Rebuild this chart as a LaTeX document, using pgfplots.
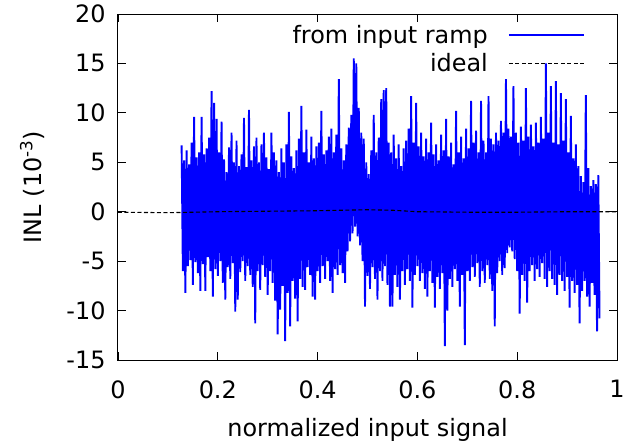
\documentclass[border=0pt]{standalone}
\usepackage{pgfplots}
\pgfplotsset{compat=1.18}
\usepackage{fontspec}
\setmainfont{DejaVu Sans}
\definecolor{gpblue}{RGB}{0,0,255}
\newcommand{\ff}{\fontsize{24}{28}\selectfont}
\begin{document}
\begin{tikzpicture}
\begin{axis}[
  at={(0,0)}, anchor=south west,
  scale only axis, width=499bp, height=346bp,
  xmin=0, xmax=1, ymin=-15, ymax=20,
  xtick={0,0.2,0.4,0.6,0.8,1},
  ytick={-15,-10,-5,0,5,10,15,20},
  tick align=inside, major tick length=8bp,
  every tick/.style={black, line width=0.8bp},
  axis line style={black, line width=1bp},
  /pgf/number format/assume math mode=true,
  tick label style={font=\ff},
  xticklabel style={yshift=-17bp},
  yticklabel style={xshift=-9bp},
  label style={font=\ff},
  xlabel={normalized input signal},
  ylabel={INL (10\textsuperscript{-3})},
  xlabel style={at={(axis description cs:0.5,-0.2225)}, anchor=base},
  ylabel style={at={(axis description cs:-0.172,0.5)}, anchor=center},
  legend style={at={(axis description cs:0.942,0.98)}, anchor=north east,
    draw=none, fill=none, font=\ff, row sep=5bp, column sep=18bp},
  legend plot pos=right,
  legend cell align=right,
]
\addplot[gpblue, line width=1.9bp,
  legend image code/.code={\draw[draw=gpblue, line width=2bp] (0bp,0bp) -- (75bp,0bp);}] coordinates {
(0.1275,6.7)(0.1300,-6.0)(0.1325,5.2)(0.1350,-8.2)(0.1375,6.2)(0.1400,-5.5)(0.1425,4.8)(0.1450,-4.9)
(0.1475,7.0)(0.1500,-7.4)(0.1525,9.6)(0.1550,-5.1)(0.1575,5.5)(0.1600,-6.2)(0.1625,6.0)(0.1650,-8.0)
(0.1675,9.6)(0.1700,-5.3)(0.1725,5.8)(0.1750,-8.0)(0.1775,6.4)(0.1800,-4.6)(0.1825,7.5)(0.1850,-6.0)
(0.1875,12.2)(0.1900,-8.6)(0.1925,11.0)(0.1950,-5.8)(0.1975,9.4)(0.2000,-6.5)(0.2025,6.0)(0.2050,-5.0)
(0.2075,9.1)(0.2100,-7.2)(0.2125,5.3)(0.2150,-8.9)(0.2175,4.0)(0.2200,-5.6)(0.2225,6.5)(0.2250,-6.8)
(0.2275,8.0)(0.2300,-5.2)(0.2325,5.0)(0.2350,-10.1)(0.2375,7.2)(0.2400,-8.9)(0.2425,4.6)(0.2450,-6.1)
(0.2475,5.8)(0.2500,-5.0)(0.2525,9.5)(0.2550,-7.0)(0.2575,4.5)(0.2600,-5.5)(0.2625,10.3)(0.2650,-6.4)
(0.2675,5.2)(0.2700,-7.6)(0.2725,6.6)(0.2750,-11.3)(0.2775,7.5)(0.2800,-6.0)(0.2825,5.0)(0.2850,-7.9)
(0.2875,6.8)(0.2900,-5.4)(0.2925,8.0)(0.2950,-6.6)(0.2975,5.5)(0.3000,-8.4)(0.3025,4.3)(0.3050,-6.0)
(0.3075,8.0)(0.3100,-7.2)(0.3125,6.0)(0.3150,-9.0)(0.3175,5.2)(0.3200,-12.4)(0.3225,4.0)(0.3250,-9.9)
(0.3275,6.4)(0.3300,-7.5)(0.3325,5.0)(0.3350,-13.1)(0.3375,6.8)(0.3400,-8.2)(0.3425,10.1)(0.3450,-11.6)
(0.3475,5.6)(0.3500,-7.0)(0.3525,4.4)(0.3550,-8.8)(0.3575,6.2)(0.3600,-11.1)(0.3625,7.4)(0.3650,-6.8)
(0.3675,10.7)(0.3700,-7.6)(0.3725,6.0)(0.3750,-7.9)(0.3775,8.3)(0.3800,-5.6)(0.3825,5.0)(0.3850,-6.4)
(0.3875,7.6)(0.3900,-8.6)(0.3925,5.4)(0.3950,-8.9)(0.3975,6.6)(0.4000,-6.0)(0.4025,7.0)(0.4050,-7.2)
(0.4075,10.2)(0.4100,-5.5)(0.4125,5.8)(0.4150,-6.8)(0.4175,6.2)(0.4200,-5.0)(0.4225,7.6)(0.4250,-7.0)
(0.4275,8.4)(0.4300,-8.2)(0.4325,6.0)(0.4350,-5.8)(0.4375,7.8)(0.4400,-6.4)(0.4425,13.4)(0.4450,-5.4)
(0.4475,6.4)(0.4500,-6.2)(0.4525,5.2)(0.4550,-7.2)(0.4575,6.8)(0.4600,-4.0)(0.4625,8.5)(0.4650,-3.0)
(0.4675,9.8)(0.4700,-2.2)(0.4725,15.5)(0.4750,-1.5)(0.4775,15.0)(0.4800,-2.5)(0.4825,10.5)(0.4850,-3.4)
(0.4875,8.0)(0.4900,-5.0)(0.4925,7.4)(0.4950,-9.6)(0.4975,5.0)(0.5000,-6.5)(0.5025,3.8)(0.5050,-7.8)
(0.5075,6.2)(0.5100,-5.6)(0.5125,9.8)(0.5150,-6.8)(0.5175,6.0)(0.5200,-8.9)(0.5225,7.5)(0.5250,-6.0)
(0.5275,11.4)(0.5300,-7.0)(0.5325,12.3)(0.5350,-5.5)(0.5375,12.5)(0.5400,-7.4)(0.5425,7.0)(0.5450,-9.6)
(0.5475,6.0)(0.5500,-9.6)(0.5525,7.8)(0.5550,-6.4)(0.5575,5.4)(0.5600,-7.6)(0.5625,6.8)(0.5650,-8.9)
(0.5675,4.6)(0.5700,-6.0)(0.5725,6.4)(0.5750,-7.4)(0.5775,7.2)(0.5800,-5.8)(0.5825,8.4)(0.5850,-7.0)
(0.5875,11.7)(0.5900,-9.7)(0.5925,7.0)(0.5950,-6.4)(0.5975,11.0)(0.6000,-5.5)(0.6025,6.6)(0.6050,-7.0)
(0.6075,8.0)(0.6100,-6.2)(0.6125,5.6)(0.6150,-7.8)(0.6175,7.4)(0.6200,-8.6)(0.6225,6.0)(0.6250,-6.0)
(0.6275,9.0)(0.6300,-7.2)(0.6325,5.8)(0.6350,-9.7)(0.6375,6.8)(0.6400,-6.6)(0.6425,5.2)(0.6450,-7.8)
(0.6475,7.8)(0.6500,-6.2)(0.6525,6.2)(0.6550,-13.6)(0.6575,9.4)(0.6600,-10.0)(0.6625,5.6)(0.6650,-6.8)
(0.6675,7.0)(0.6700,-7.6)(0.6725,4.8)(0.6750,-5.8)(0.6775,10.2)(0.6800,-7.0)(0.6825,6.0)(0.6850,-9.6)
(0.6875,7.6)(0.6900,-6.4)(0.6925,5.4)(0.6950,-13.5)(0.6975,8.4)(0.7000,-6.0)(0.7025,6.4)(0.7050,-7.0)
(0.7075,11.2)(0.7100,-5.6)(0.7125,7.0)(0.7150,-6.6)(0.7175,8.2)(0.7200,-5.2)(0.7225,6.0)(0.7250,-7.6)
(0.7275,11.2)(0.7300,-6.0)(0.7325,7.2)(0.7350,-7.2)(0.7375,6.0)(0.7400,-5.4)(0.7425,11.7)(0.7450,-6.8)
(0.7475,7.4)(0.7500,-8.0)(0.7525,6.8)(0.7550,-11.6)(0.7575,8.0)(0.7600,-6.2)(0.7625,7.2)(0.7650,-5.0)
(0.7675,9.2)(0.7700,-6.4)(0.7725,8.0)(0.7750,-5.7)(0.7775,13.4)(0.7800,-4.2)(0.7825,8.4)(0.7850,-3.6)
(0.7875,7.6)(0.7900,-4.0)(0.7925,12.7)(0.7950,-4.8)(0.7975,8.0)(0.8000,-6.0)(0.8025,7.0)(0.8050,-10.3)
(0.8075,8.6)(0.8100,-6.4)(0.8125,7.2)(0.8150,-7.0)(0.8175,12.5)(0.8200,-9.2)(0.8225,7.6)(0.8250,-6.0)
(0.8275,8.8)(0.8300,-5.4)(0.8325,6.6)(0.8350,-7.0)(0.8375,9.0)(0.8400,-5.8)(0.8425,7.0)(0.8450,-6.6)
(0.8475,9.6)(0.8500,-5.2)(0.8525,7.4)(0.8550,-6.8)(0.8575,15.0)(0.8600,-7.6)(0.8625,8.0)(0.8650,-6.0)
(0.8675,12.7)(0.8700,-6.8)(0.8725,7.0)(0.8750,-7.4)(0.8775,13.2)(0.8800,-8.4)(0.8825,6.8)(0.8850,-6.4)
(0.8875,12.0)(0.8900,-7.0)(0.8925,7.2)(0.8950,-8.0)(0.8975,11.4)(0.9000,-6.6)(0.9025,6.0)(0.9050,-9.7)
(0.9075,9.7)(0.9100,-7.0)(0.9125,5.4)(0.9150,-8.2)(0.9175,6.8)(0.9200,-7.4)(0.9225,4.6)(0.9250,-11.3)
(0.9275,3.6)(0.9300,-8.0)(0.9325,3.0)(0.9350,-7.0)(0.9375,11.8)(0.9400,-8.6)(0.9425,4.4)(0.9450,-9.6)
(0.9475,2.6)(0.9500,-7.2)(0.9525,3.2)(0.9550,-8.4)(0.9575,2.8)(0.9600,-12.1)(0.9625,3.7)(0.9650,-10.8)
};
\addlegendentry{from input ramp}
\addplot[black, line width=1.1bp, dash pattern=on 4bp off 2.5bp,
  legend image code/.code={\draw[draw=black, line width=1.1bp, dash pattern=on 4bp off 2.5bp] (0bp,0bp) -- (75bp,0bp);}] coordinates {
(0,-0.05)(0.1,-0.1)(0.2,0.0)(0.3,0.05)(0.4,0.1)(0.5,0.2)(0.55,0.15)(0.6,0.0)(0.7,-0.05)(0.8,-0.05)(0.9,0.0)(1,0.0)
};
\addlegendentry{ideal}
\end{axis}
\pgfresetboundingbox
\path (-118bp,-87bp) rectangle (512bp,360bp);
\end{tikzpicture}
\end{document}
